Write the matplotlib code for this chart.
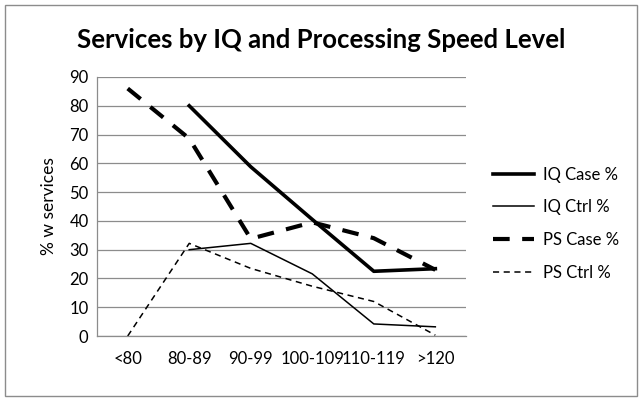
import matplotlib.pyplot as plt
from matplotlib.patches import Rectangle

categories = ['<80', '80-89', '90-99', '100-109', '110-119', '>120']
iq_case = [None, 80, 58.8, 40.5, 22.5, 23.4]
iq_ctrl = [None, 30, 32.2, 21.6, 4.2, 3.2]
ps_case = [86, 68.6, 33.8, 39.5, 34, 23]
ps_ctrl = [0, 32.2, 23.5, 17.3, 12, 0.3]

plt.rcParams['font.family'] = ['Lato', 'DejaVu Sans']

fig = plt.figure(figsize=(6.42, 4.01), dpi=100)
ax = fig.add_axes([0.151, 0.162, 0.575, 0.646])

x = list(range(len(categories)))

def pts(vals):
    xs = [i for i, v in zip(x, vals) if v is not None]
    ys = [v for v in vals if v is not None]
    return xs, ys

ax.plot(*pts(iq_case), color='black', lw=2.6, label='IQ Case %')
ax.plot(*pts(iq_ctrl), color='black', lw=1.1, label='IQ Ctrl %')
ax.plot(*pts(ps_case), color='black', lw=3.0, dashes=(4, 3), label='PS Case %')
ax.plot(*pts(ps_ctrl), color='black', lw=1.1, dashes=(4, 3), label='PS Ctrl %')

ax.set_xlim(-0.5, 5.5)
ax.set_ylim(0, 90)
ax.set_yticks(range(0, 91, 10))
ax.set_xticks(x)
ax.set_xticklabels(categories)
ax.tick_params(length=0, labelsize=12, pad=6)
ax.tick_params(axis='x', pad=11)
ax.grid(axis='y', color='#8c8c8c', lw=0.9)
ax.set_axisbelow(True)
for s in ['top', 'right']:
    ax.spines[s].set_visible(False)
for s in ['left', 'bottom']:
    ax.spines[s].set_color('#8c8c8c')
    ax.spines[s].set_linewidth(0.9)

ax.set_ylabel('% w services', fontsize=12.5, labelpad=9)
fig.text(0.5, 0.9, 'Services by IQ and Processing Speed Level', ha='center', va='center',
         fontsize=18.5, fontweight='bold')

fig.legend(*ax.get_legend_handles_labels(), loc='upper left', bbox_to_anchor=(0.757, 0.601),
           frameon=False, fontsize=12, handlelength=2.5, labelspacing=1.0,
           handletextpad=0.55, borderaxespad=0)

fig.patches.append(Rectangle((0.008, 0.012), 0.984, 0.976, transform=fig.transFigure,
                             fill=False, edgecolor='#8c8c8c', lw=1))

fig.savefig('out.png', dpi=100)
